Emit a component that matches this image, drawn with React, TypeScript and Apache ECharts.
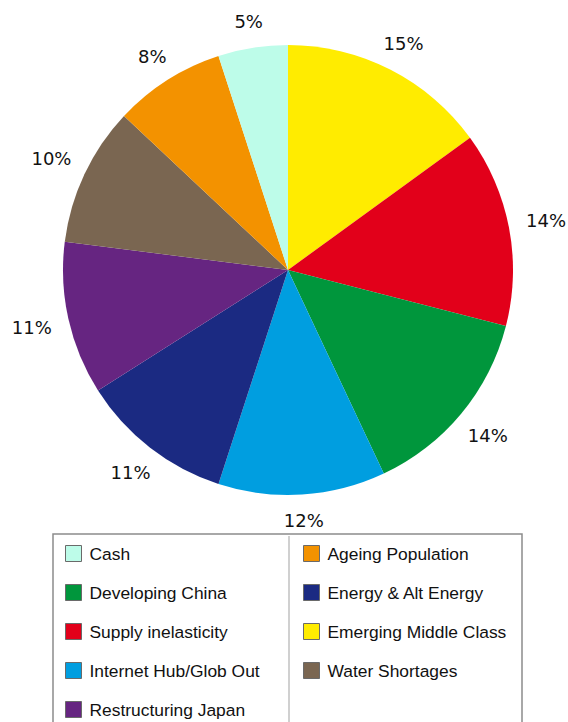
import React, { useEffect, useRef } from "react";
import * as echarts from "echarts";

const categories = [
  "Emerging Middle Class",
  "Supply inelasticity",
  "Developing China",
  "Internet Hub/Glob Out",
  "Energy & Alt Energy",
  "Restructuring Japan",
  "Water Shortages",
  "Ageing Population",
  "Cash",
];
const values = [15, 14, 14, 12, 11, 11, 10, 8, 5];
const colors = [
  "#FFEC00",
  "#E2001A",
  "#00963C",
  "#009EE0",
  "#1B2A82",
  "#662581",
  "#7A6651",
  "#F39200",
  "#BDFCE9",
];
const legendLeft = [
  "Cash",
  "Developing China",
  "Supply inelasticity",
  "Internet Hub/Glob Out",
  "Restructuring Japan",
];
const legendRight = [
  "Ageing Population",
  "Energy & Alt Energy",
  "Emerging Middle Class",
  "Water Shortages",
];

const CX = 288;
const CY = 270;
const R = 225;

export default function App() {
  const ref = useRef<HTMLDivElement>(null);
  useEffect(() => {
    if (!ref.current) return;
    const chart = echarts.init(ref.current, null, { renderer: "svg" });
    const total = values.reduce((a, b) => a + b, 0);
    const legendCommon = {
      orient: "vertical",
      icon: "rect",
      itemWidth: 16,
      itemHeight: 16,
      itemGap: 22,
      height: 220,
      width: 220,
      selectedMode: false,
      itemStyle: { borderColor: "#6a6a6a", borderWidth: 1 },
      textStyle: {
        fontFamily: "Liberation Sans, Arial, sans-serif",
        fontSize: 17.4,
        color: "#111",
        lineHeight: 16,
        padding: [0, 0, 0, 3],
      },
      padding: 0,
    };
    chart.setOption({
      animation: false,
      color: colors,
      legend: [
        { ...legendCommon, data: legendLeft, left: 65, top: 545 },
        { ...legendCommon, data: legendRight, left: 303, top: 545 },
      ],
      graphic: [
        {
          type: "rect",
          shape: { x: 53, y: 534, width: 469, height: 200 },
          style: { fill: "none", stroke: "#8c8c8c", lineWidth: 1.5 },
          z: -1,
        },
        {
          type: "line",
          shape: { x1: 289, y1: 536, x2: 289, y2: 730 },
          style: { stroke: "#d0d0d0", lineWidth: 2 },
          z: -1,
        },
      ],
      series: [
        {
          type: "pie",
          center: [CX, CY],
          radius: [0, R],
          startAngle: 90,
          clockwise: true,
          itemStyle: { borderWidth: 0 },
          emphasis: { disabled: true },
          data: categories.map((name, i) => ({
            name,
            value: values[i],
            itemStyle: { color: colors[i] },
          })),
          label: {
            show: true,
            position: "inside",
            formatter: (p: any) => `${Math.round(p.percent)}%`,
            fontFamily: "DejaVu Sans, Verdana, sans-serif",
            fontSize: 18,
            color: "#111",
            overflow: "none",
          },
          labelLine: { show: false },
          labelLayout: (p: any) => {
            const idx = p.dataIndex;
            let cum = 0;
            for (let i = 0; i < idx; i++) cum += values[i];
            const mid = ((cum + values[idx] / 2) / total) * Math.PI * 2;
            const s = Math.sin(mid);
            const c = Math.cos(mid);
            const w = p.labelRect.width / 2;
            const h = 8;
            const d = R + 18 + Math.sqrt((s * w) ** 2 + (c * h) ** 2);
            return {
              x: CX + d * s,
              y: CY - d * c,
              align: "center",
              verticalAlign: "middle",
            };
          },
        },
      ],
    });
    return () => chart.dispose();
  }, []);
  return (
    <div
      ref={ref}
      style={{ position: "absolute", left: 0, top: 0, width: 568, height: 722 }}
    />
  );
}
